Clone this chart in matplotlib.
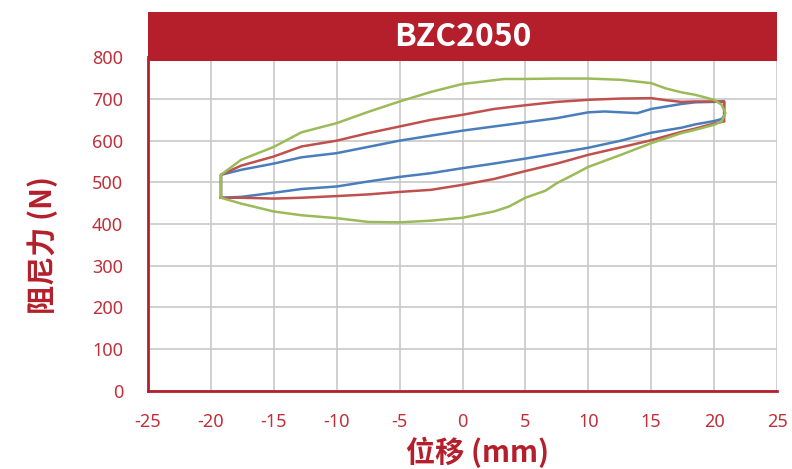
import matplotlib
matplotlib.use("Agg")
import matplotlib.pyplot as plt
from matplotlib.patches import Rectangle

plt.rcParams['font.family'] = ['Noto Sans CJK SC', 'DejaVu Sans']
plt.rcParams['axes.unicode_minus'] = False

title = "BZC2050"
xlabel = "位移 (mm)"
ylabel = "阻尼力 (N)"
xticks = [-25, -20, -15, -10, -5, 0, 5, 10, 15, 20, 25]
yticks = [0, 100, 200, 300, 400, 500, 600, 700, 800]

blue_x = [-19.2, -17.6, -15, -12.8, -10, -7.5, -5, -2.5, 0, 2.5, 5, 7.5, 10, 12.6, 15, 16.2, 17.4, 18.5, 20, 20.6, 20.8,
          20.8, 20, 18.5, 17.4, 16.2, 15, 13.9, 12.6, 11.3, 10, 7.5, 5, 2.5, 0, -2.5, -5, -7.5, -10, -12.8, -15, -17.6, -19.2, -19.2]
blue_y = [463, 465, 475, 484, 490, 502, 513, 522, 534, 545, 557, 570, 583, 600, 619, 625, 631, 639, 647, 652, 660,
          695, 693, 692, 688, 682, 676, 666, 668, 670, 668, 654, 644, 634, 624, 612, 600, 585, 570, 560, 545, 530, 518, 463]

red_x = [-19.2, -17.6, -15, -12.8, -10, -7.5, -5, -2.5, 0, 2.5, 5, 7.5, 10, 12.6, 15, 16.2, 17.4, 18.5, 20, 20.8,
         20.8, 20, 18.5, 17.4, 16.2, 15, 12.6, 10, 7.5, 5, 2.5, 0, -2.5, -5, -7.5, -10, -12.8, -15, -17.6, -19.2, -19.2]
red_y = [463, 463, 461, 463, 467, 471, 477, 482, 494, 508, 527, 545, 566, 584, 601, 611, 621, 629, 641, 646,
         693, 694, 694, 693, 697, 702, 701, 698, 693, 685, 676, 662, 650, 634, 618, 600, 586, 562, 540, 518, 463]

green_x = [-19.2, -17.6, -15, -12.8, -10, -7.5, -5, -2.5, 0, 2.5, 3.7, 5, 6.6, 7.5, 8.8, 10, 12.6, 15, 16.2, 17.4, 18.5, 20, 20.6, 20.9,
           20.6, 20, 18.5, 17.4, 16.2, 15, 12.6, 10, 7.5, 5, 3.3, 1.7, 0, -2.5, -5, -7.5, -10, -12.8, -15, -17.6, -19.2, -19.2]
green_y = [463, 449, 430, 421, 414, 405, 404, 408, 415, 430, 442, 463, 480, 498, 518, 537, 566, 594, 606, 618, 626, 638, 646, 666,
           686, 698, 710, 716, 725, 738, 746, 749, 749, 748, 748, 742, 736, 717, 694, 669, 642, 620, 585, 554, 518, 463]

RED = "#b41f2b"
TXT = "#c0303a"

fig = plt.figure(figsize=(7.92, 4.69), dpi=100)
ax = fig.add_axes([148/792, 1-390.7/469, (777-148)/792, (390.7-57.3)/469])

ax.plot(blue_x, blue_y, color="#4a7ebb", lw=1.8, zorder=3)
ax.plot(red_x, red_y, color="#c0504d", lw=1.8, zorder=3)
ax.plot(green_x, green_y, color="#9bbb59", lw=1.8, zorder=3)

ax.set_xlim(-25, 25)
ax.set_ylim(0, 800)
ax.set_xticks(xticks)
ax.set_yticks(yticks)
ax.set_xticklabels([str(v) for v in xticks])
ax.set_yticklabels([str(v) for v in yticks])
ax.grid(True, color="#c8c8c8", lw=1.2, zorder=0)
ax.set_axisbelow(True)
for s in ["top", "right"]:
    ax.spines[s].set_visible(False)
for s in ["left", "bottom"]:
    ax.spines[s].set_color(RED)
    ax.spines[s].set_linewidth(2)
    ax.spines[s].set_zorder(4)
ax.tick_params(axis="both", length=0, labelcolor=TXT, labelsize=13)
ax.tick_params(axis="x", pad=16)
ax.tick_params(axis="y", pad=18)
for lab in ax.get_xticklabels() + ax.get_yticklabels():
    lab.set_family(["Noto Sans", "DejaVu Sans"])

# title banner
ban = Rectangle((0, (390.7-61)/333.4), 1.0, (61-12)/333.4, transform=ax.transAxes,
                facecolor=RED, edgecolor="none", clip_on=False, zorder=5)
ax.add_patch(ban)
ax.text(0.5, (390.7-37)/333.4, title, transform=ax.transAxes, ha="center", va="center",
        color="white", fontsize=23, fontweight="bold", zorder=6,
        family=["Noto Sans CJK SC", "DejaVu Sans"])

fig.text(478/792, 1-452/469, xlabel, ha="center", va="center", color=RED,
         fontsize=21, fontweight="bold")
fig.text(43/792, 1-245/469, ylabel, ha="center", va="center", color=RED,
         fontsize=21, fontweight="bold", rotation=90)

fig.savefig("out.png", dpi=100)
